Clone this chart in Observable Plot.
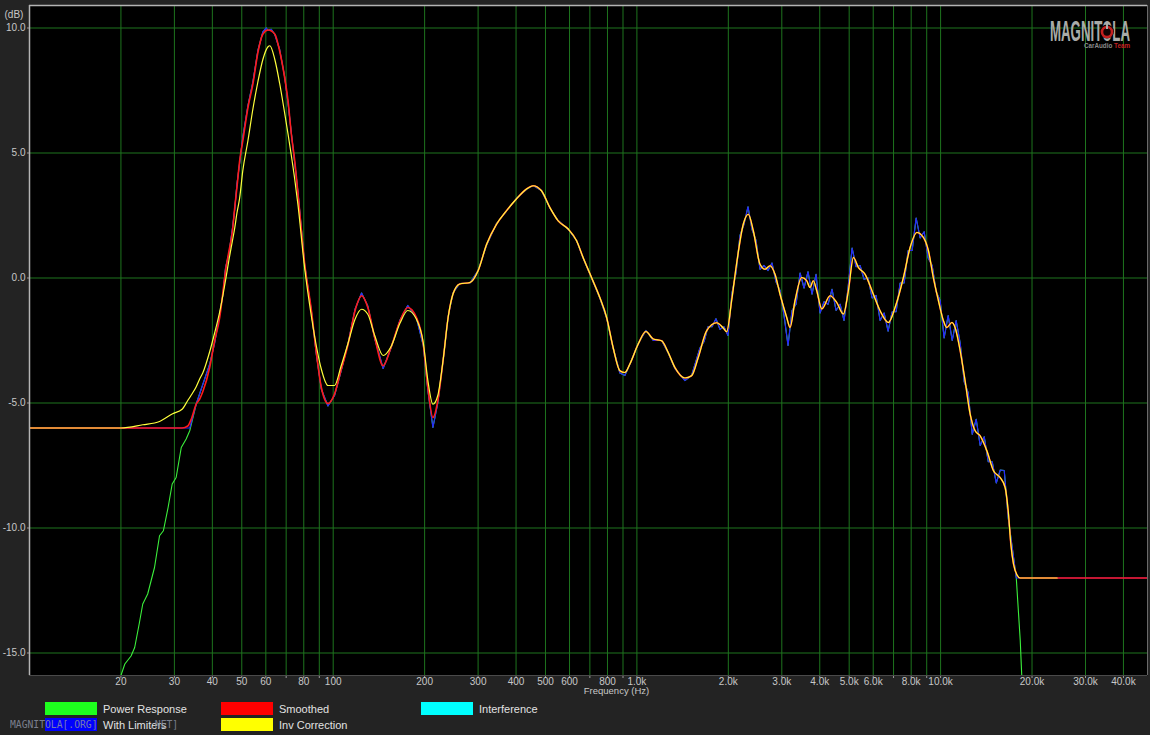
<!DOCTYPE html>
<html>
<head>
<meta charset="utf-8">
<script src="https://cdn.jsdelivr.net/npm/d3@7"></script>
<script src="https://cdn.jsdelivr.net/npm/@observablehq/plot@0.6"></script>
<style>
  html, body { margin: 0; padding: 0; background: #232323; }
  #wrap { position: relative; width: 1150px; height: 735px; overflow: hidden; background: #232323; }
  #legend { position: relative; width: 1150px; height: 35px; font-family: "Liberation Sans", Arial, sans-serif; font-size: 11px; color: #e2e2e2; }
  .sw { position: absolute; width: 52px; height: 13px; }
  .lt { position: absolute; line-height: 13px; white-space: nowrap; }
  .wm { position: absolute; font-family: "DejaVu Sans Mono", monospace; font-size: 9.7px; color: #8a90a0; opacity: 0.85; line-height: 12px; white-space: pre; }
</style>
</head>
<body>
<div id="wrap"><div id="chart"></div><div id="legend"></div></div>
<script>
// ---------- axis / tick data ----------
const X_DOMAIN = [10, 48000];
const Y_DOMAIN = [-15.9, 10.9];
const gridFreqs = [20,30,40,50,60,70,80,90,100,200,300,400,500,600,700,800,900,1000,2000,3000,4000,5000,6000,7000,8000,9000,10000,20000,30000,40000];
const labeledFreqs = [20,30,40,50,60,80,100,200,300,400,500,600,800,1000,2000,3000,4000,5000,6000,8000,10000,20000,30000,40000];
const freqLabels = ["20","30","40","50","60","80","100","200","300","400","500","600","800","1.0k","2.0k","3.0k","4.0k","5.0k","6.0k","8.0k","10.0k","20.0k","30.0k","40.0k"];
const dbTicks = [-15,-10,-5,0,5,10];
const dbLabels = ["-15.0","-10.0","-5.0","0.0","5.0","10.0"];

// limiter floors used by the "With Limiters" trace
const LIMIT_SPLIT_HZ = 100;
const LOW_LIMIT_DB = -6;
const HIGH_LIMIT_DB = -12;

// ---------- series: [frequency Hz, dB] ----------
const powerResponse = [
[10,-16],[20,-16],[20.6,-15.44],[21.6,-15.12],[22.2,-14.78],[23.0,-13.8],[23.6,-13.04],[24.5,-12.64],[25.8,-11.58],
[26.8,-10.31],[27.6,-10.11],[28.6,-9.18],[29.5,-8.24],[30.4,-7.98],[31.6,-6.78],[32.8,-6.44],[33.7,-6.11],[35.4,-5.04],
[36.8,-4.43],[39.2,-3.45],[40.7,-2.6],[42.3,-1.45],[43.4,-0.6],[44.2,0.4],[45.4,1.0],[46.6,2.0],[47.4,2.75],[48.2,3.75],
[49.2,4.6],[50.4,5.65],[52.4,6.9],[54.4,7.85],[56.5,9.1],[58.7,9.85],[60.2,10.0],[61.0,9.9],[62.5,9.95],[64.2,9.75],
[66.6,9.15],[69.2,8.05],[71.0,7.0],[72.8,5.8],[74.7,4.6],[76.6,3.4],[80.5,0.55],[84.8,-1.35],[88.1,-3.1],[91.4,-4.45],
[96.1,-5.12],[101,-4.7],[106,-3.75],[112,-2.6],[118,-1.25],[124,-0.6],[130,-1.12],[137,-2.42],[146,-3.62],[155,-2.8],
[166,-1.68],[176,-1.1],[188,-1.6],[198,-2.7],[205,-4.5],[213,-5.98],[221,-5.0],[230,-3.32],[239,-1.55],[248,-0.6],
[261,-0.22],[282,-0.2],[300,0.3],[320,1.32],[345,2.18],[372,2.68],[401,3.18],[433,3.55],[455,3.7],[485,3.5],[517,2.8],
[550,2.3],[594,1.95],[633,1.5],[665,0.8],[709,0.0],[755,-0.8],[795,-1.6],[835,-2.8],[879,-3.8],[913,-3.9],[948,-3.45],
[1010,-2.62],[1071,-2.1],[1132,-2.5],[1206,-2.5],[1268,-3.0],[1334,-3.62],[1439,-4.1],[1514,-3.9],
[1613,-2.8],[1663,-2.55],[1714,-1.95],[1767,-1.95],[1821,-1.63],[1877,-2.05],[1935,-1.95],[1995,-2.3],[2056,-0.6],
[2120,0.2],[2185,1.7],[2252,2.15],[2322,2.85],[2393,1.95],[2467,1.5],[2543,0.35],[2621,0.5],[2702,0.3],[2785,0.6],
[2871,-0.15],[2960,-0.5],[3051,-1.5],[3145,-2.7],[3242,-1.3],[3342,-1.05],[3445,0.2],[3551,-0.4],[3660,0.25],
[3773,-0.65],[3889,0.15],[4009,-1.4],[4133,-0.95],[4260,-1.05],[4391,-0.45],[4527,-1.3],[4666,-1.05],[4810,-1.7],
[4958,-0.4],[5111,1.2],[5269,0.45],[5431,0.5],[5598,-0.05],[5771,0.0],[5949,-0.8],[6132,-0.7],[6321,-1.7],[6516,-1.4],
[6717,-2.13],[6924,-1.35],[7137,-1.35],[7357,-0.2],[7584,-0.2],[7818,1.1],[8059,1.1],[8307,2.4],[8563,1.6],[8827,1.85],
[9099,0.8],[9380,0.5],[9669,-0.55],[9967,-0.9],[10270,-2.4],[10590,-1.5],[10920,-2.5],[11250,-1.7],[11600,-2.6],
[11960,-4.15],[12330,-4.6],[12710,-6.25],[13100,-5.65],[13500,-6.7],[13920,-6.35],[14350,-7.35],[14790,-7.35],
[15250,-8.2],[15720,-7.68],[16200,-7.7],[16700,-9.6],[17220,-10.8],[17750,-12.0],[18290,-14.5],[18500,-16],[48000,-16]
];

const smoothed = [
[10,-6.0],[20,-6.0],[23.6,-6.0],[26.8,-6.0],[29.6,-6.0],[31.8,-6.0],[33.2,-5.92],[34.1,-5.64],[35.4,-5.04],[36.3,-4.85],
[37.2,-4.55],[39.2,-3.58],[40.7,-2.51],[42.3,-1.58],[43.4,-0.51],[44.2,0.29],[45.4,1.09],[46.6,1.89],[47.4,2.82],
[48.2,3.62],[49.2,4.69],[50.4,5.49],[52.4,6.82],[54.4,7.76],[56.5,9.02],[58.7,9.76],[61.0,9.92],[64.2,9.76],[66.6,9.09],
[69.2,8.02],[71.0,7.09],[72.8,5.76],[74.7,4.69],[76.6,3.36],[80.5,0.6],[84.8,-1.31],[88.1,-3.04],[91.4,-4.38],
[96.1,-5.02],[101,-4.64],[106,-3.71],[112,-2.64],[118,-1.31],[124,-0.71],[130,-1.18],[137,-2.38],[146,-3.51],
[155,-2.78],[166,-1.71],[176,-1.18],[188,-1.58],[198,-2.64],[205,-4.38],[213,-5.58],[221,-4.91],[230,-3.31],
[239,-1.58],[248,-0.64],[261,-0.24],[282,-0.18],[300,0.29],[320,1.35],[345,2.15],[372,2.69],[401,3.16],[433,3.56],
[455,3.69],[485,3.49],[517,2.82],[550,2.29],[594,1.96],[633,1.49],[665,0.82],[709,0.02],[755,-0.78],[795,-1.58],
[835,-2.78],[879,-3.71],[913,-3.78],[948,-3.44],[1010,-2.64],[1071,-2.14],[1132,-2.44],[1206,-2.51],[1268,-2.98],
[1334,-3.58],[1439,-4.0],[1514,-3.91],[1592,-3.18],[1697,-2.11],[1831,-1.79],[1925,-2.0],[1975,-2.15],[2051,-0.9],
[2131,0.6],[2240,2.15],[2327,2.55],[2417,1.89],[2543,0.55],[2641,0.35],[2743,0.49],[2849,0.15],[2960,-0.65],
[3114,-1.58],[3193,-1.98],[3316,-0.91],[3489,0.02],[3624,-0.11],[3715,-0.38],[3809,-0.11],[3910,-0.51],[4061,-1.24],
[4325,-0.71],[4550,-0.98],[4785,-1.44],[4970,-0.51],[5162,0.82],[5361,0.42],[5639,0.15],[6006,-0.65],[6320,-1.31],
[6730,-1.78],[7081,-1.18],[7543,0.02],[7936,1.22],[8350,1.82],[8779,1.62],[9118,1.09],[9469,0.0],[9835,-0.9],
[10210,-1.7],[10480,-1.98],[10890,-1.78],[11160,-1.98],[11600,-2.91],[12040,-4.11],[12510,-5.44],[12990,-6.11],
[13490,-6.31],[14200,-6.91],[14930,-7.71],[15700,-7.98],[16310,-8.38],[16730,-9.44],[17030,-10.64],[17380,-11.44],
[17830,-11.87],[18280,-12.0],[24200,-12.0],[48000,-12.0]
];

const invCorrection = [
[10,-6.0],[20,-6.0],[23.6,-5.87],[26.8,-5.74],[29.6,-5.43],[31.8,-5.25],[33.2,-4.9],[34.1,-4.68],[35.4,-4.35],
[36.3,-4.05],[37.2,-3.8],[39.2,-2.95],[40.7,-2.2],[42.3,-1.35],[43.4,-0.65],[44.2,-0.1],[45.4,0.75],[46.6,1.5],
[47.4,2.0],[48.2,2.6],[49.2,3.2],[50.4,4.3],[52.4,5.5],[54.4,6.76],[56.5,7.85],[58.7,8.75],[61.0,9.25],[61.9,9.29],
[64.2,8.75],[66.6,7.8],[69.2,6.6],[71.0,5.76],[72.8,4.9],[74.7,3.95],[76.6,2.9],[80.5,0.42],[84.8,-1.55],[88.1,-2.75],
[91.4,-3.65],[96.1,-4.3],[101,-4.3],[106,-3.55],[112,-2.6],[118,-1.65],[124,-1.25],[130,-1.45],[137,-2.3],[146,-3.1],
[155,-2.75],[166,-1.8],[176,-1.3],[188,-1.65],[198,-2.6],[205,-4.1],[213,-5.05],[221,-4.7],[230,-3.3],
[239,-1.58],[248,-0.64],[261,-0.24],[282,-0.18],[300,0.29],[320,1.35],[345,2.15],[372,2.69],[401,3.16],[433,3.56],
[455,3.69],[485,3.49],[517,2.82],[550,2.29],[594,1.96],[633,1.49],[665,0.82],[709,0.02],[755,-0.78],[795,-1.58],
[835,-2.78],[879,-3.71],[913,-3.78],[948,-3.44],[1010,-2.64],[1071,-2.14],[1132,-2.44],[1206,-2.51],[1268,-2.98],
[1334,-3.58],[1439,-4.0],[1514,-3.91],[1592,-3.18],[1697,-2.11],[1831,-1.79],[1925,-2.0],[1975,-2.15],[2051,-0.9],
[2131,0.6],[2240,2.15],[2327,2.55],[2417,1.89],[2543,0.55],[2641,0.35],[2743,0.49],[2849,0.15],[2960,-0.65],
[3114,-1.58],[3193,-1.98],[3316,-0.91],[3489,0.02],[3624,-0.11],[3715,-0.38],[3809,-0.11],[3910,-0.51],[4061,-1.24],
[4325,-0.71],[4550,-0.98],[4785,-1.44],[4970,-0.51],[5162,0.82],[5361,0.42],[5639,0.15],[6006,-0.65],[6320,-1.31],
[6730,-1.78],[7081,-1.18],[7543,0.02],[7936,1.22],[8350,1.82],[8779,1.62],[9118,1.09],[9469,0.0],[9835,-0.9],
[10210,-1.7],[10480,-1.98],[10890,-1.78],[11160,-1.98],[11600,-2.91],[12040,-4.11],[12510,-5.44],[12990,-6.11],
[13490,-6.31],[14200,-6.91],[14930,-7.71],[15700,-7.98],[16310,-8.38],[16730,-9.44],[17030,-10.64],[17380,-11.44],
[17830,-11.87],[18280,-12.0],[24200,-12.0]
];

const legendItems = [
  {name: "Power Response", color: "#1eff1e"},
  {name: "With Limiters", color: "#0000ff"},
  {name: "Smoothed", color: "#ff0000"},
  {name: "Inv Correction", color: "#ffff00"},
  {name: "Interference", color: "#00ffff"}
];

// derived: power response passed through the limiter floors
const withLimiters = powerResponse.map(([f, v]) => [f, Math.max(v, f < LIMIT_SPLIT_HZ ? LOW_LIMIT_DB : HIGH_LIMIT_DB)]);

const xLabel = new Map(labeledFreqs.map((f, i) => [f, freqLabels[i]]));
const yLabel = new Map(dbTicks.map((d, i) => [d, dbLabels[i]]));
const clampY = v => Math.max(v, Y_DOMAIN[0]);

const GRID = "#1e741e";
const chart = Plot.plot({
  width: 1150,
  height: 700,
  marginLeft: 29,
  marginRight: 3,
  marginTop: 5,
  marginBottom: 25,
  style: {background: "#232323", color: "#c4c4c4", fontFamily: "'Liberation Sans', Arial, sans-serif", fontSize: "10px"},
  x: {type: "log", domain: X_DOMAIN},
  y: {domain: Y_DOMAIN},
  marks: [
    Plot.frame({fill: "#000000", stroke: null}),
    Plot.gridX(gridFreqs, {stroke: GRID, strokeOpacity: 1}),
    Plot.gridY(dbTicks, {stroke: GRID, strokeOpacity: 1}),
    Plot.axisX(gridFreqs, {tickSize: 3, tickFormat: () => "", stroke: "#9a9a9a", label: null}),
    Plot.text(labeledFreqs, {x: d => d, frameAnchor: "bottom", dy: 9, text: d => xLabel.get(d), fill: "#c8c8c8", fontSize: 10}),
    Plot.axisY(dbTicks, {tickSize: 2, tickPadding: 2, tickFormat: d => yLabel.get(d), fill: "#c8c8c8", stroke: "#9a9a9a", label: null}),
    Plot.text(["Frequency (Hz)"], {frameAnchor: "bottom", dx: 28, dy: 18, fill: "#c8c8c8", fontSize: 9.5}),
    Plot.text(["(dB)"], {frameAnchor: "top-left", dx: -25, dy: 5, textAnchor: "start", fill: "#c8c8c8", fontSize: 10}),
    Plot.line(powerResponse, {x: d => d[0], y: d => clampY(d[1]), stroke: "#3cf03c", strokeWidth: 1.1, clip: true}),
    Plot.line(withLimiters, {x: d => d[0], y: d => d[1], stroke: "#2626ff", strokeWidth: 1.2, clip: true}),
    Plot.line(smoothed, {x: d => d[0], y: d => d[1], stroke: "#ff1a1a", strokeWidth: 1.6, curve: "monotone-x", clip: true}),
    Plot.line(invCorrection, {x: d => d[0], y: d => d[1], stroke: "#ffff3c", strokeWidth: 1.2, curve: "monotone-x", clip: true}),
    Plot.ruleX([X_DOMAIN[0]], {stroke: "#b4b4b4", strokeWidth: 1.5}),
    Plot.ruleY([Y_DOMAIN[1]], {stroke: "#b4b4b4", strokeWidth: 1.5}),
    Plot.ruleX([X_DOMAIN[1]], {stroke: "#6a6a6a"}),
    Plot.ruleY([Y_DOMAIN[0]], {stroke: "#4a4a4a"})
  ]
});
document.getElementById("chart").appendChild(chart);

// brand logo (decoration)
const svg = d3.select(chart);
const logo = svg.append("g").attr("text-anchor", "start")
  .attr("font-family", "'Liberation Sans Narrow','Liberation Sans',Arial,sans-serif").attr("font-weight", "bold");
logo.append("text").attr("x", 1050).attr("y", 41).attr("font-size", 29).attr("fill", "#a9aba9")
  .attr("textLength", 80).attr("lengthAdjust", "spacingAndGlyphs").text("MAGNITOLA");
logo.append("circle").attr("cx", 1107).attr("cy", 31.5).attr("r", 7).attr("fill", "#120404");
logo.append("circle").attr("cx", 1107).attr("cy", 32).attr("r", 5).attr("fill", "none").attr("stroke", "#c42020").attr("stroke-width", 2.6);
logo.append("rect").attr("x", 1106).attr("y", 23).attr("width", 2).attr("height", 6).attr("fill", "#a9aba9");
const sub = logo.append("text").attr("x", 1084).attr("y", 48).attr("font-size", 7)
  .attr("textLength", 46).attr("lengthAdjust", "spacingAndGlyphs");
sub.append("tspan").attr("fill", "#8a8a8a").text("CarAudio ");
sub.append("tspan").attr("fill", "#c42020").text("Team");

// legend below the SVG
const legend = document.getElementById("legend");
const slots = [[45, 2], [45, 18], [221, 2], [221, 18], [421, 2]];
legendItems.forEach((item, i) => {
  const [lx, ly] = slots[i];
  const sw = document.createElement("div");
  sw.className = "sw"; sw.style.left = lx + "px"; sw.style.top = ly + "px"; sw.style.background = item.color;
  legend.appendChild(sw);
  const t = document.createElement("div");
  t.className = "lt"; t.style.left = (lx + 58) + "px"; t.style.top = (ly + 1) + "px"; t.textContent = item.name;
  legend.appendChild(t);
});
const wm1 = document.createElement("div");
wm1.className = "wm"; wm1.style.left = "10px"; wm1.style.top = "19px"; wm1.textContent = "MAGNITOLA[.ORG]";
legend.appendChild(wm1);
const wm2 = document.createElement("div");
wm2.className = "wm"; wm2.style.left = "149px"; wm2.style.top = "19px"; wm2.textContent = ".NET]";
legend.appendChild(wm2);
</script>
</body>
</html>
